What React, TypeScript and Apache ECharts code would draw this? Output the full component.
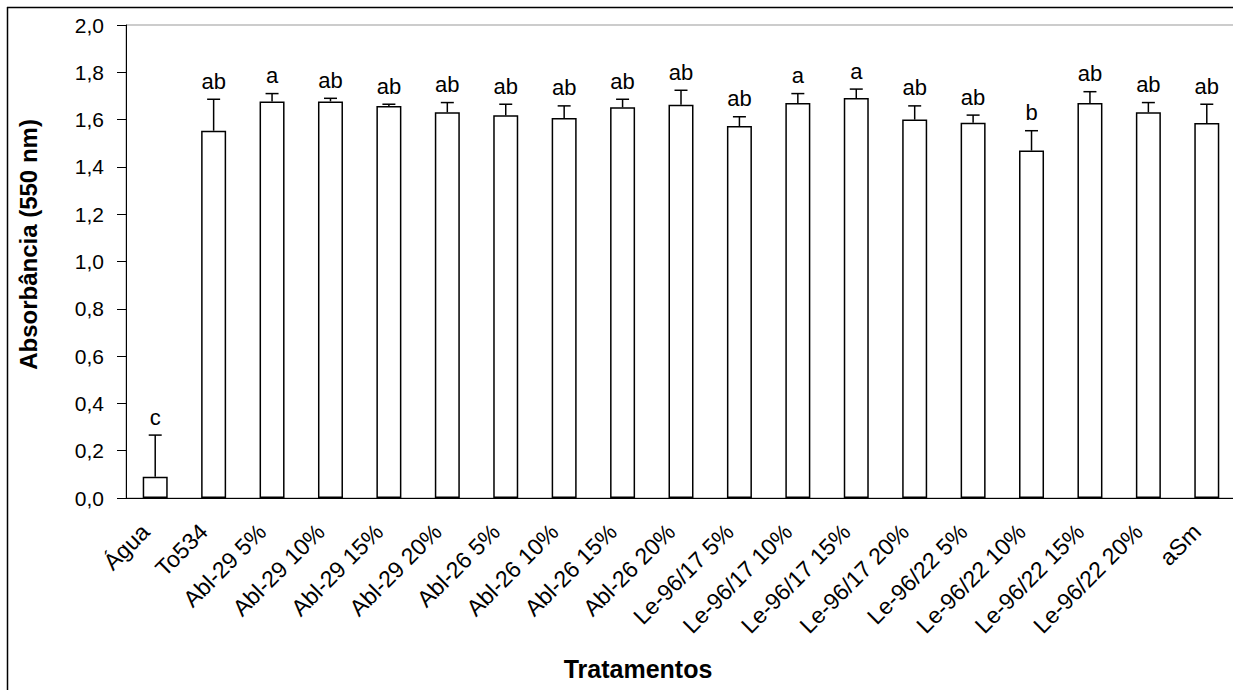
import React, { useEffect, useRef } from "react";
import * as echarts from "echarts";

const categories = [
  "Água", "To534", "Abl-29 5%", "Abl-29 10%", "Abl-29 15%", "Abl-29 20%",
  "Abl-26 5%", "Abl-26 10%", "Abl-26 15%", "Abl-26 20%",
  "Le-96/17 5%", "Le-96/17 10%", "Le-96/17 15%", "Le-96/17 20%",
  "Le-96/22 5%", "Le-96/22 10%", "Le-96/22 15%", "Le-96/22 20%", "aSm",
];
const means = [0.09, 1.553, 1.677, 1.677, 1.657, 1.631, 1.618, 1.607, 1.652, 1.663, 1.573, 1.67, 1.691, 1.6, 1.587, 1.469, 1.67, 1.631, 1.586];
const errors = [0.176, 0.133, 0.033, 0.013, 0.008, 0.041, 0.047, 0.051, 0.034, 0.061, 0.039, 0.04, 0.038, 0.058, 0.032, 0.084, 0.048, 0.041, 0.079];
const letters = ["c", "ab", "a", "ab", "ab", "ab", "ab", "ab", "ab", "ab", "ab", "a", "a", "ab", "ab", "b", "ab", "ab", "ab"];
const yTicks = { min: 0, max: 2, interval: 0.2 };

const FONT = "'Liberation Sans', Arial, sans-serif";

export default function App() {
  const ref = useRef<HTMLDivElement>(null);
  useEffect(() => {
    if (!ref.current) return;
    const chart = echarts.init(ref.current, null, { renderer: "svg" });
    chart.setOption({
      animation: false,
      backgroundColor: "#fff",
      grid: { left: 126, top: 25, width: 1110, height: 473, show: true, borderColor: "#999", borderWidth: 1, backgroundColor: "transparent" },
      xAxis: {
        type: "category",
        data: categories,
        axisLine: { lineStyle: { color: "#000", width: 1 } },
        axisTick: { length: 8, lineStyle: { color: "#000" } },
        axisLabel: { rotate: 45, fontSize: 23, color: "#000", fontFamily: FONT, margin: 20, padding: [0, 14, 0, 0], interval: 0 },
      },
      yAxis: {
        type: "value",
        min: yTicks.min,
        max: yTicks.max,
        interval: yTicks.interval,
        axisLine: { show: true, lineStyle: { color: "#000", width: 1 } },
        axisTick: { show: true, length: 9, lineStyle: { color: "#000" } },
        splitLine: { show: false },
        axisLabel: {
          fontSize: 21, color: "#000", fontFamily: FONT, margin: 22,
          formatter: (v: number) => v.toFixed(1).replace(".", ","),
        },
        name: "Absorbância (550 nm)",
        nameLocation: "middle",
        nameGap: 86,
        nameTextStyle: { fontSize: 24, fontWeight: "bold", color: "#000", fontFamily: FONT, padding: [0, 0, 0, 34] },
      },
      graphic: [
        {
          type: "line",
          shape: { x1: 7, y1: 7.5, x2: 1260, y2: 7.5 },
          style: { stroke: "#000", lineWidth: 1.5 },
          silent: true,
        },
        {
          type: "line",
          shape: { x1: 7.5, y1: 7, x2: 7.5, y2: 700 },
          style: { stroke: "#000", lineWidth: 1.5 },
          silent: true,
        },
        {
          type: "text",
          x: 638,
          y: 669,
          style: { text: "Tratamentos", fontSize: 25, fontWeight: "bold", fill: "#000", fontFamily: FONT, align: "center", verticalAlign: "middle" },
        },
      ],
      series: [
        {
          type: "bar",
          data: means,
          barWidth: 25,
          itemStyle: { color: "#fff", borderColor: "#000", borderWidth: 1.5 },
        },
        {
          type: "custom",
          data: means.map((m, i) => [i, m, m + errors[i]]),
          z: 5,
          renderItem: (params: any, api: any) => {
            const i = api.value(0);
            const base = api.coord([i, api.value(1)]);
            const top = api.coord([i, api.value(2)]);
            const st = { stroke: "#000", lineWidth: 1.5 };
            return {
              type: "group",
              children: [
                { type: "line", shape: { x1: base[0], y1: base[1], x2: top[0], y2: top[1] }, style: st },
                { type: "line", shape: { x1: top[0] - 6.5, y1: top[1], x2: top[0] + 6.5, y2: top[1] }, style: st },
                {
                  type: "text",
                  x: top[0],
                  y: top[1] - 7,
                  style: { text: letters[i], fontSize: 22, fill: "#000", fontFamily: FONT, align: "center", verticalAlign: "bottom" },
                },
              ],
            };
          },
        },
      ],
    });
    return () => chart.dispose();
  }, []);
  return (
    <div style={{ position: "fixed", left: 0, top: 0, width: 1233, height: 690, overflow: "hidden" }}>
      <div ref={ref} style={{ width: 1260, height: 700 }} />
    </div>
  );
}
